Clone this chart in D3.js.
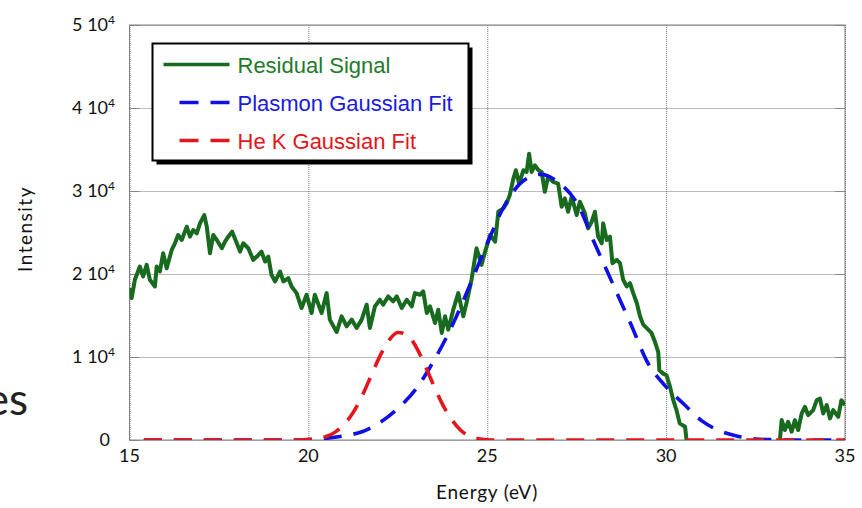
<!DOCTYPE html>
<html>
<head>
<meta charset="utf-8">
<script src="https://cdn.jsdelivr.net/npm/d3@7"></script>
<style>
  body { margin: 0; background: #fff; }
  text { font-family: Lato, "Open Sans", sans-serif; }
</style>
</head>
<body>
<svg id="chart" width="862" height="508"></svg>
<script>
// energy (eV), intensity
var residualSignal = [
  [15.00,18300],[15.06,17100],[15.15,19300],[15.29,20900],[15.38,19700],[15.48,21100],[15.57,19300],
  [15.71,18500],[15.76,20900],[15.85,20300],[15.94,22500],[16.04,20700],[16.18,22900],[16.27,23700],
  [16.36,24700],[16.46,24100],[16.60,25700],[16.69,24500],[16.78,25300],[16.88,24900],[16.97,26100],
  [17.09,27100],[17.16,25700],[17.25,22500],[17.34,24700],[17.44,24100],[17.58,23100],[17.67,23900],
  [17.76,24500],[17.87,25100],[18.00,23700],[18.09,22700],[18.18,23700],[18.32,23100],[18.46,21700],
  [18.56,22100],[18.69,22700],[18.79,21500],[18.88,22100],[18.97,19900],[19.07,19100],[19.21,20300],
  [19.30,19100],[19.44,19500],[19.53,18500],[19.67,17700],[19.81,15900],[19.95,17500],[20.09,15300],
  [20.18,17500],[20.37,15300],[20.51,17700],[20.60,14500],[20.79,13000],[20.93,14900],[21.07,13700],
  [21.21,14500],[21.35,13500],[21.49,14500],[21.63,16300],[21.72,13500],[21.86,16100],[22.00,16900],
  [22.09,16300],[22.23,17300],[22.37,16700],[22.47,17300],[22.61,15900],[22.75,16900],[22.89,16100],
  [22.98,17700],[23.12,17500],[23.21,17900],[23.31,15300],[23.40,16100],[23.54,14100],[23.63,15700],
  [23.73,12900],[23.82,14900],[23.91,13300],[24.05,15700],[24.19,17700],[24.33,14900],[24.42,16500],
  [24.56,19300],[24.70,23100],[24.84,21100],[24.94,22700],[25.08,24700],[25.22,23900],[25.31,27500],
  [25.45,27900],[25.54,28500],[25.63,29500],[25.73,31500],[25.80,32500],[25.89,30900],[26.01,32500],
  [26.10,32300],[26.17,34500],[26.24,32300],[26.33,33100],[26.43,32500],[26.52,32300],[26.61,29900],
  [26.70,31700],[26.84,31100],[26.98,30900],[27.08,28100],[27.17,29100],[27.26,27500],[27.36,29300],
  [27.50,27100],[27.59,28700],[27.73,27300],[27.82,25500],[27.92,26300],[28.01,27500],[28.10,24500],
  [28.20,23700],[28.24,26100],[28.34,24100],[28.43,24500],[28.50,21300],[28.62,21700],[28.71,21300],
  [28.80,19300],[28.90,18500],[28.99,18900],[29.08,17700],[29.18,16500],[29.27,14900],[29.36,13900],
  [29.50,13300],[29.59,12900],[29.69,11800],[29.78,10600],[29.81,8400],[29.92,8000],[30.01,7800],
  [30.11,6400],[30.20,4800],[30.29,3600],[30.38,2000],[30.53,1600],[30.57,0],[30.62,-2000],
  [33.15,-2000],[33.18,0],[33.23,2400],[33.32,1200],[33.41,2200],[33.51,1000],[33.60,2400],
  [33.69,1200],[33.79,3200],[33.88,4000],[33.97,3000],[34.11,3600],[34.21,4800],[34.30,5000],
  [34.39,3200],[34.49,4200],[34.58,2600],[34.67,3600],[34.81,2800],[34.90,4800],[35.00,4200]
]

var plasmonFit = [
  [15.4,0],[19.75,0],[20.0,50],[20.5,200],[21.0,500],[21.5,1000],[22.0,2100],[22.5,3800],
  [23.0,6100],[23.5,9500],[24.0,13600],[24.5,18500],[25.0,23700],[25.5,28400],[26.0,31200],
  [26.5,32000],[27.0,31000],[27.5,28600],[28.0,23700],[28.5,18900],[29.0,14100],[29.5,9200],
  [30.0,6400],[30.5,4300],[31.0,2300],[31.5,1100],[32.0,450],[32.5,120],[33.0,30],[33.5,0],[35,0]
]

var heKFit = [
  [15.4,0],[19.75,0],[20.0,60],[20.25,170],[20.5,420],[20.75,950],[21.0,1900],[21.25,3300],
  [21.5,5300],[21.75,7700],[22.0,10100],[22.25,12000],[22.5,12950],[22.75,12700],[23.0,11300],
  [23.25,9100],[23.5,6600],[23.75,4300],[24.0,2500],[24.25,1200],[24.5,450],[24.75,150],
  [25.0,30],[25.25,0],[35,0]
]

var xTicks = [15, 20, 25, 30, 35]
var yTicks = [0, 10000, 20000, 30000, 40000, 50000]
var legendItems = ['Residual Signal', 'Plasmon Gaussian Fit', 'He K Gaussian Fit']

var green = '#176a1e', blue = '#1010e6', red = '#e3161c'
var legendColors = ['#237a2a', '#1a1ae0', '#e3161c']

var svg = d3.select('#chart')
// note: "top" is taken by window.top, so plot edges get their own names
var pL = 129.5, pR = 845, pT = 25, pB = 440

var x = d3.scaleLinear().domain([15, 35]).range([pL, pR])
var y = d3.scaleLinear().domain([0, 50000]).range([pB, pT])

// leftover slide text
svg.append('text').attr('x', 28).attr('y', 415).attr('text-anchor', 'end')
  .style('font-size', '44px').attr('fill', '#222').text('es')

// dotted grid
var gx = svg.append('g').attr('transform', `translate(0,${pB})`)
  .call(d3.axisBottom(x).tickValues(xTicks).tickSize(-(pB - pT)).tickFormat(''))
var gy = svg.append('g').attr('transform', `translate(${pL},0)`)
  .call(d3.axisLeft(y).tickValues(yTicks).tickSize(-(pR - pL)).tickFormat(''))
;[gx, gy].forEach(g => {
  g.select('.domain').remove()
  g.selectAll('line').attr('stroke', '#777').attr('stroke-dasharray', '1,1')
})

// short inner ticks
var tl = svg.append('g').attr('transform', `translate(${pL},0)`)
  .call(d3.axisLeft(y).tickValues(yTicks).tickSize(-10).tickFormat(''))
var tr = svg.append('g').attr('transform', `translate(${pR},0)`)
  .call(d3.axisRight(y).tickValues(yTicks).tickSize(-10).tickFormat(''))
;[tl, tr].forEach(g => {
  g.select('.domain').remove()
  g.selectAll('line').attr('stroke', '#888')
})

svg.append('rect').attr('x', pL).attr('y', pT)
  .attr('width', pR - pL).attr('height', pB - pT)
  .attr('fill', 'none').attr('stroke', '#808080')

// tick labels
svg.selectAll('.xlab').data(xTicks).join('text').attr('class', 'xlab')
  .attr('x', d => x(d)).attr('y', pB + 22).attr('text-anchor', 'middle')
  .style('font-size', '18px').attr('fill', '#111').text(d => d)

var ylab = svg.selectAll('.ylab').data(yTicks).join('text').attr('class', 'ylab')
  .attr('x', 115).attr('y', d => y(d) + 6).attr('text-anchor', 'end')
  .style('font-size', '18px').attr('fill', '#111')
ylab.filter(d => d == 0).attr('x', 110).text('0')
ylab.filter(d => d > 0).each(function(d){
  var t = d3.select(this)
  t.append('tspan').text((d / 10000) + ' 10')
  t.append('tspan').attr('dy', -7).style('font-size', '12px').text('4')
})

svg.append('text').attr('transform', `translate(32,229) rotate(-90)`)
  .attr('text-anchor', 'middle').style('font-size', '19px').style('letter-spacing', '1.5px')
  .attr('fill', '#111').text('Intensity')
svg.append('text').attr('x', 487).attr('y', 499).attr('text-anchor', 'middle')
  .style('font-size', '19px').style('letter-spacing', '0.8px')
  .attr('fill', '#111').text('Energy (eV)')

// curves
svg.append('clipPath').attr('id', 'plotclip').append('rect')
  .attr('x', pL).attr('y', pT).attr('width', pR - pL).attr('height', pB - pT)

var plot = svg.append('g').attr('clip-path', 'url(#plotclip)')
var lineRaw = d3.line().x(d => x(d[0])).y(d => y(d[1]))
var lineSmooth = d3.line().x(d => x(d[0])).y(d => y(d[1])).curve(d3.curveMonotoneX)

plot.append('path').datum(residualSignal).attr('d', lineRaw)
  .attr('fill', 'none').attr('stroke', green).attr('stroke-width', 4).attr('stroke-linejoin', 'round')
plot.append('path').datum(plasmonFit).attr('d', lineSmooth)
  .attr('fill', 'none').attr('stroke', blue).attr('stroke-width', 3.6).attr('stroke-dasharray', '18,12')
plot.append('path').datum(heKFit).attr('d', lineSmooth)
  .attr('fill', 'none').attr('stroke', red).attr('stroke-width', 3.6).attr('stroke-dasharray', '18,12')

// legend
var lg = svg.append('g').attr('transform', 'translate(152.5,43.5)')
lg.append('rect').attr('x', 4).attr('y', 4).attr('width', 316).attr('height', 117).attr('fill', '#000')
lg.append('rect').attr('width', 316).attr('height', 117).attr('fill', '#fff').attr('stroke', '#000').attr('stroke-width', 2)

var rows = lg.selectAll('.row').data(legendItems).join('g').attr('class', 'row')
  .attr('transform', (d, i) => `translate(0,${21 + i * 38})`)
rows.append('line')
  .attr('x1', (d, i) => i == 0 ? 11 : 27).attr('x2', 77)
  .attr('stroke', (d, i) => [green, blue, red][i]).attr('stroke-width', 3.5)
  .attr('stroke-dasharray', (d, i) => i == 0 ? null : '19,12')
rows.append('text').attr('x', 85).attr('y', 8)
  .style('font-family', '"Liberation Sans", Arial, sans-serif').style('font-size', '22px')
  .attr('fill', (d, i) => legendColors[i]).text(d => d)
</script>
</body>
</html>
